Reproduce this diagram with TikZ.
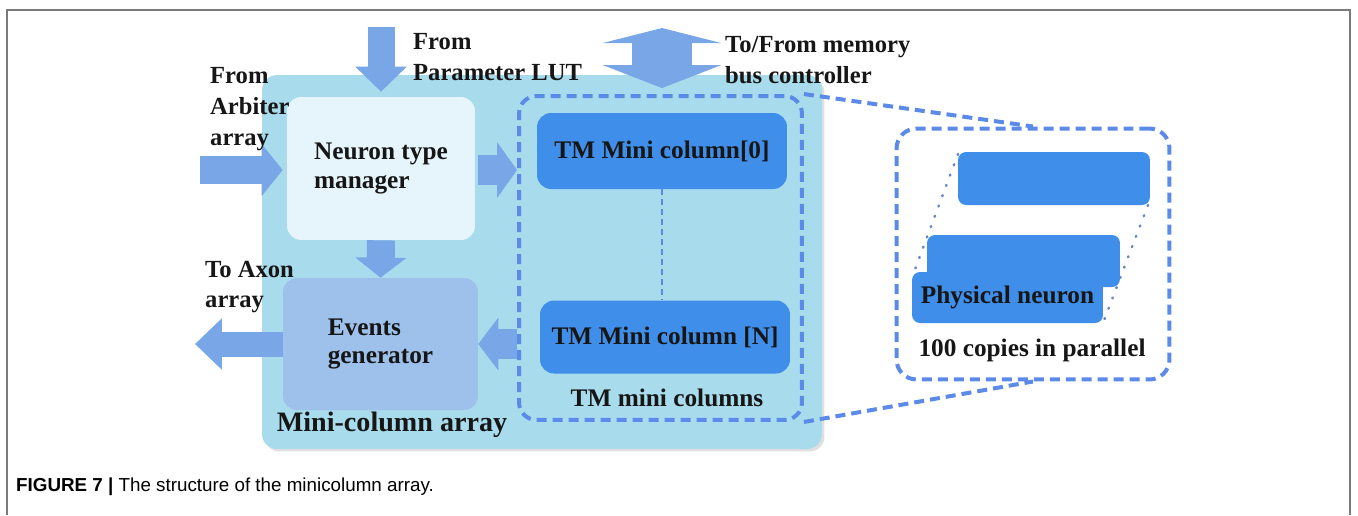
\documentclass[tikz,border=0pt]{standalone}
\usepackage{fontspec}
\setmainfont{Liberation Serif}
\newfontfamily\capfont{Liberation Sans}
\usetikzlibrary{arrows.meta, positioning, shadows}
\definecolor{ArrayCyan}{HTML}{A8DBEB}
\definecolor{MgrWhite}{HTML}{E6F5FB}
\definecolor{EvBlue}{HTML}{9EC1EC}
\definecolor{ColBlue}{HTML}{3F8FEA}
\definecolor{DashBlue}{HTML}{5B8AE8}
\definecolor{ArrowBlue}{HTML}{78A6E6}
\definecolor{FrameGray}{HTML}{7A7A7A}
\definecolor{Ink}{HTML}{161616}

\begin{document}
\begin{tikzpicture}[x=0.02cm, y=-0.02cm, text=Ink,
  font=\bfseries\fontsize{14.4}{16.5}\selectfont,
  blockbox/.style={rounded corners=0.28cm, inner sep=2pt, align=left},
  tmbox/.style={blockbox, fill=ColBlue, minimum width=5cm},
  pnbox/.style={rounded corners=0.16cm, fill=ColBlue, inner sep=0pt},
  outlbl/.style={anchor=west, align=left, font=\bfseries\fontsize{14}{17.5}\selectfont},
  zoomline/.style={draw=DashBlue, line width=0.08cm, dash pattern=on 0.2cm off 0.12cm},
  dotline/.style={draw=DashBlue!70!gray, line width=0.05cm, dash pattern=on 0.02cm off 0.2cm, line cap=round},
  fatarrow/.style={draw=ArrowBlue, line width=0.56cm, -{Triangle[length=0.42cm, width=1.02cm]}}]
  \useasboundingbox (0,0) rectangle (1358,515);

  % frame and caption
  \draw[FrameGray, line width=0.04cm] (7,515) -- (7,10) -- (1350,10) -- (1350,515);
  \node[anchor=west, font=\capfont\fontsize{10.7}{12}\selectfont, text=black] (cap) at (10,487)
    {\textbf{FIGURE 7 |} The structure of the minicolumn array.};

  % mini-column array
  \node[fill=ArrayCyan, rounded corners=0.3cm, minimum width=11.2cm, minimum height=7.48cm,
        drop shadow={shadow xshift=0.05cm, shadow yshift=-0.05cm, opacity=0.25}] (mcarr) at (542,262) {};
  \node[font=\bfseries\fontsize{16}{18}\selectfont] (mcarrlbl) at (392,425) {Mini-column array};

  \node[blockbox, fill=MgrWhite, minimum width=3.76cm, minimum height=2.86cm] (ntm) at (381,168.5)
    {Neuron type\\manager};
  \node[blockbox, fill=EvBlue, minimum width=3.9cm, minimum height=2.64cm] (evg) at (380.5,344)
    {Events\\generator};

  \node[zoomline, rounded corners=0.35cm, minimum width=5.66cm, minimum height=6.48cm] (tmcols) at (660.5,258) {};
  \node[tmbox, minimum height=1.52cm] (tm0) at (662,151) {TM Mini column[0]};
  \node[tmbox, minimum height=1.46cm] (tmN) at (665,337) {TM Mini column [N]};
  \node (tmlbl) at (667,398) {TM mini columns};
  \draw[DashBlue, line width=0.04cm, dash pattern=on 0.12cm off 0.08cm] (tm0.south) -- (tm0.south |- tmN.north);

  % zoomed physical neurons
  \node[zoomline, rounded corners=0.4cm, minimum width=5.46cm, minimum height=5.02cm] (zoom) at (1033,254) {};
  \draw[zoomline] (tmcols.north east) -- (zoom.north);
  \draw[zoomline] (tmcols.south east) -- (zoom.south);
  \coordinate (pn1nw) at (958,154);
  \coordinate (pn1se) at (1148,205);
  \coordinate (pn3nw) at (914,272);
  \coordinate (pn3se) at (1103,323);
  \draw[dotline] (pn1nw) -- (pn3nw);
  \draw[dotline] (pn1se) -- (pn3se);
  \node[pnbox, minimum width=3.84cm, minimum height=1.06cm] (pn1) at (1054,178.5) {};
  \node[pnbox, minimum width=3.86cm, minimum height=1.04cm] (pn2) at (1023.5,261) {};
  \node[pnbox, minimum width=3.82cm, minimum height=1.02cm] (pn3) at (1007.5,297.5) {Physical neuron};
  \node (copies) at (1032,350) {100 copies in parallel};

  % block arrows
  \coordinate (lutin) at (381,27);
  \coordinate (arbin) at (200,170);
  \coordinate (axonout) at (195,344);
  \coordinate (memout) at (662,28);
  \draw[fatarrow, line width=0.54cm, -{Triangle[length=0.5cm, width=1.0cm]}, shorten >=0.1cm] (lutin) -- (ntm.north);
  \draw[fatarrow, shorten >=0.08cm] (arbin) -- (ntm.west |- arbin);
  \draw[fatarrow, line width=0.6cm, -{Triangle[length=0.4cm, width=1.1cm]}, shorten <=0.06cm]
    (ntm.east |- arbin) -- (tmcols.west |- arbin);
  \draw[fatarrow, -{Triangle[length=0.4cm, width=1.0cm]}] (ntm.south) -- (evg.north);
  \draw[fatarrow, line width=0.6cm, -{Triangle[length=0.4cm, width=1.04cm]}] (tmcols.west |- evg.east) -- (evg.east);
  \draw[fatarrow, line width=0.5cm, -{Triangle[length=0.54cm, width=1.0cm]}] (evg.west) -- (axonout);
  \draw[fatarrow, line width=1.2cm, {Triangle[length=0.46cm, width=2.36cm]}-{Triangle[length=0.3cm, width=2.36cm]},
        shorten <=0.12cm] (tmcols.north -| memout) -- (memout);

  % outside labels
  \node[outlbl] (lutlbl) at (407,57) {From\\Parameter LUT};
  \node[outlbl] (arblbl) at (204,109) {From\\Arbiter\\array};
  \node[outlbl] (memlbl) at (719,60) {To/From memory\\bus controller};
  \node[outlbl] (axonlbl) at (199,287) {To Axon\\array};
\end{tikzpicture}
\end{document}
